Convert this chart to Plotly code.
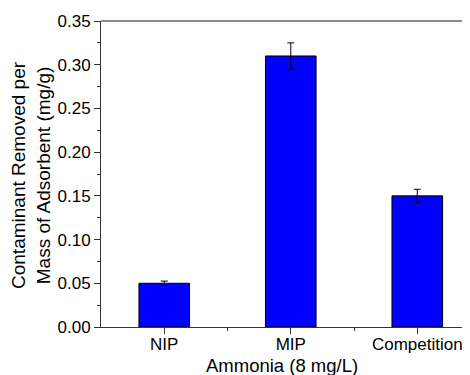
import plotly.graph_objects as go

categories = ["NIP", "MIP", "Competition"]
values = [0.050, 0.310, 0.150]
errors = [0.0025, 0.015, 0.0075]
x_pos = [1, 2, 3]
x_title = "Ammonia (8 mg/L)"
y_title = "Contaminant Removed per<br>Mass of Adsorbent (mg/g)"

fig = go.Figure()
fig.add_trace(go.Bar(
    x=x_pos, y=values, width=0.4,
    marker=dict(color="#0000FF", line=dict(color="black", width=1)),
    error_y=dict(type="data", array=errors, color="black", thickness=1, width=3.5),
))

font = "Arial, Liberation Sans, sans-serif"
fig.update_layout(
    width=470, height=375,
    margin=dict(l=93, r=0, t=13, b=56),
    plot_bgcolor="white", paper_bgcolor="white",
    showlegend=False,
    font=dict(family=font, size=17, color="black"),
    xaxis=dict(
        range=[0.5, 3.48], tickvals=x_pos, ticktext=categories,
        ticks="outside", ticklen=6, tickcolor="#333", showgrid=False, zeroline=False,
        showline=True, linecolor="#333", linewidth=1, mirror=False, automargin=False,
        minor=dict(tickvals=[1.5, 2.5], ticks="outside", ticklen=3, tickcolor="#333"),
        tickfont=dict(size=17), ticklabelstandoff=-4,
    ),
    yaxis=dict(
        range=[0, 0.35], dtick=0.05, tickformat=".2f",
        ticks="outside", ticklen=6, tickcolor="#333", showgrid=False, zeroline=False,
        showline=True, linecolor="#333", linewidth=1, automargin=False,
        minor=dict(dtick=0.025, ticks="outside", ticklen=3, tickcolor="#333"),
        tickfont=dict(size=17),
    ),
)
fig.add_shape(type="line", xref="paper", yref="paper", x0=0, x1=1, y0=1, y1=1,
              line=dict(color="#666", width=1.5))
fig.add_annotation(text=x_title, xref="paper", yref="paper", x=0.5, y=0,
                   xanchor="center", yanchor="middle", xshift=-8, yshift=-38, showarrow=False,
                   font=dict(size=18.5))
fig.add_annotation(text=y_title, xref="paper", yref="paper", x=0, y=0.5,
                   xanchor="center", yanchor="middle", xshift=-70, yshift=-1,
                   textangle=-90, showarrow=False, font=dict(size=19))
fig.write_html("out.html")
